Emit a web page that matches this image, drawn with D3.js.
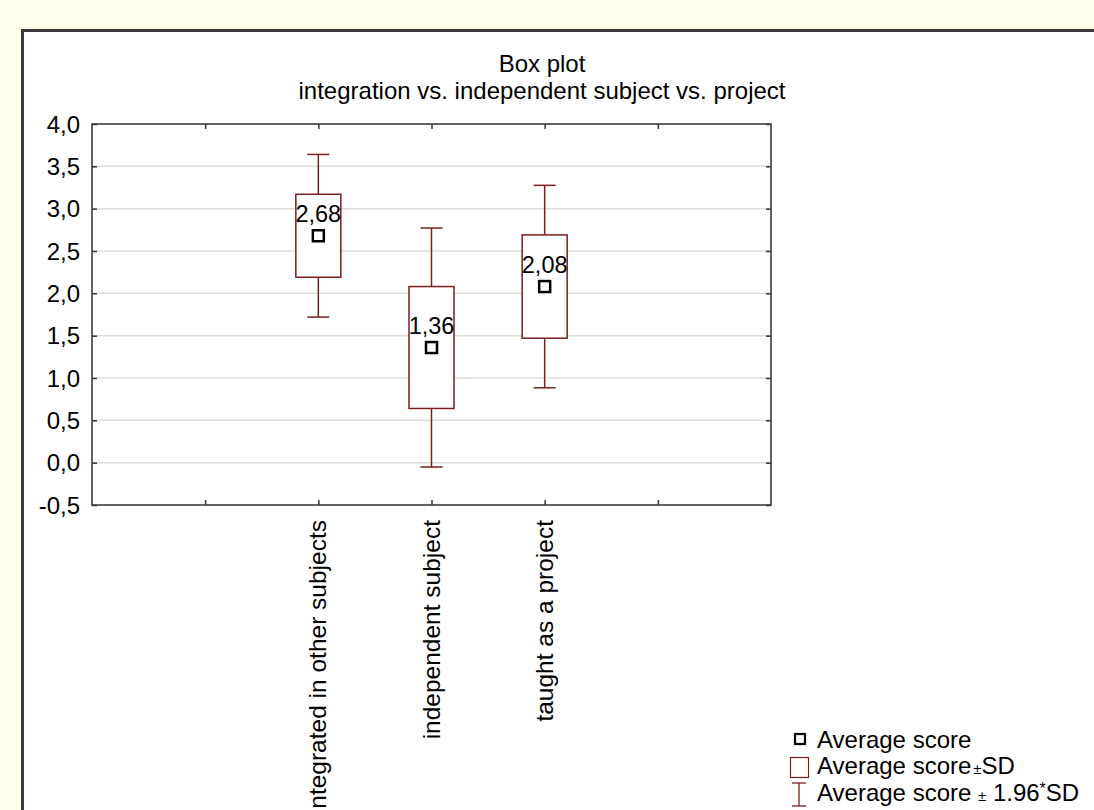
<!DOCTYPE html>
<html>
<head>
<meta charset="utf-8">
<script src="https://cdn.jsdelivr.net/npm/d3@7"></script>
<style>
  html, body { margin: 0; padding: 0; background: #ffffec; }
  svg { display: block; }
  text { font-family: "Liberation Sans", Arial, sans-serif; fill: #000; }
</style>
</head>
<body>
<svg id="chart" width="1094" height="810"></svg>
<script>
// ---- data ----
const categories = ["integrated in other subjects", "independent subject", "taught as a project"];
const categoryPositions = [2, 3, 4];
const means = [2.68, 1.36, 2.08];
const sds = [0.49, 0.72, 0.61];
const yTicks = [-0.5, 0.0, 0.5, 1.0, 1.5, 2.0, 2.5, 3.0, 3.5, 4.0];
const xTickPositions = [1, 2, 3, 4, 5];
const titleLines = ["Box plot", "integration vs. independent subject vs. project"];
const legendLabels = ["Average score", "Average score", "Average score"];

const svg = d3.select("#chart");
const W = 1094, H = 810;

// panel
svg.append("rect").attr("x", 0).attr("y", 0).attr("width", W).attr("height", H).attr("fill", "#ffffec");
svg.append("rect").attr("x", 22.5).attr("y", 30.5).attr("width", W + 20).attr("height", H + 20)
  .attr("fill", "#ffffff").attr("stroke", "#3a3a3a").attr("stroke-width", 3);

const plot = { left: 92, right: 771, top: 124, bottom: 505 };
const x = d3.scaleLinear().domain([0, 6]).range([plot.left, plot.right]);
const y = d3.scaleLinear().domain([-0.5, 4.0]).range([plot.bottom, plot.top]);

const loc = d3.formatLocale({ decimal: ",", thousands: ".", grouping: [3], currency: ["", ""], minus: "-" });
const fmt1 = loc.format(".1f");
const fmt2 = loc.format(".2f");

// gridlines
svg.append("g").selectAll("line").data(yTicks.filter(t => t > -0.5 && t < 4.0)).join("line")
  .attr("x1", plot.left).attr("x2", plot.right)
  .attr("y1", d => y(d)).attr("y2", d => y(d))
  .attr("stroke", "#dcdcdc").attr("stroke-width", 1.5);

// axes (ticks inward)
const tickLen = 5;
const axL = svg.append("g").attr("transform", `translate(${plot.left},0)`)
  .call(d3.axisRight(y).tickValues(yTicks).tickSize(tickLen).tickFormat(""));
const axR = svg.append("g").attr("transform", `translate(${plot.right},0)`)
  .call(d3.axisLeft(y).tickValues(yTicks).tickSize(tickLen).tickFormat(""));
const axB = svg.append("g").attr("transform", `translate(0,${plot.bottom})`)
  .call(d3.axisTop(x).tickValues(xTickPositions).tickSize(tickLen).tickFormat(""));
const axT = svg.append("g").attr("transform", `translate(0,${plot.top})`)
  .call(d3.axisBottom(x).tickValues(xTickPositions).tickSize(tickLen).tickFormat(""));
[axL, axR, axB, axT].forEach(a => {
  a.select(".domain").remove();
  a.selectAll(".tick line").attr("stroke", "#333").attr("stroke-width", 1.5);
});

// frame
svg.append("rect").attr("x", plot.left).attr("y", plot.top)
  .attr("width", plot.right - plot.left).attr("height", plot.bottom - plot.top)
  .attr("fill", "none").attr("stroke", "#3c3c3c").attr("stroke-width", 1.6);

// y tick labels
svg.append("g").selectAll("text").data(yTicks).join("text")
  .attr("x", plot.left - 12).attr("y", d => y(d)).attr("dy", "0.36em")
  .attr("text-anchor", "end").attr("font-size", 24)
  .text(d => fmt1(d));

// x category labels (rotated)
svg.append("g").selectAll("text").data(categories).join("text")
  .attr("transform", (d, i) => `translate(${x(categoryPositions[i]) + 8},520) rotate(-90)`)
  .attr("text-anchor", "end").attr("font-size", 24.5)
  .text(d => d);

// title
svg.append("g").selectAll("text").data(titleLines).join("text")
  .attr("x", 542).attr("y", (d, i) => 72 + i * 27)
  .attr("text-anchor", "middle").attr("font-size", 24)
  .text(d => d);

// boxes
const boxColor = "#7a1e1e";
const boxW = 45, capW = 22;
const g = svg.append("g").selectAll("g").data(means).join("g");
g.each(function (m, i) {
  const s = sds[i];
  const cx = x(categoryPositions[i]);
  const sel = d3.select(this);
  const wTop = m + 1.96 * s, wBot = m - 1.96 * s;
  const bTop = m + s, bBot = m - s;
  sel.append("line").attr("x1", cx).attr("x2", cx).attr("y1", y(wTop)).attr("y2", y(bTop))
    .attr("stroke", boxColor).attr("stroke-width", 1.5);
  sel.append("line").attr("x1", cx).attr("x2", cx).attr("y1", y(bBot)).attr("y2", y(wBot))
    .attr("stroke", boxColor).attr("stroke-width", 1.5);
  sel.append("line").attr("x1", cx - capW / 2).attr("x2", cx + capW / 2).attr("y1", y(wTop)).attr("y2", y(wTop))
    .attr("stroke", boxColor).attr("stroke-width", 1.5);
  sel.append("line").attr("x1", cx - capW / 2).attr("x2", cx + capW / 2).attr("y1", y(wBot)).attr("y2", y(wBot))
    .attr("stroke", boxColor).attr("stroke-width", 1.5);
  sel.append("rect").attr("x", cx - boxW / 2).attr("y", y(bTop)).attr("width", boxW).attr("height", y(bBot) - y(bTop))
    .attr("fill", "#fff").attr("stroke", boxColor).attr("stroke-width", 1.5);
  sel.append("rect").attr("x", cx - 5.5).attr("y", y(m) - 5.5).attr("width", 11).attr("height", 11)
    .attr("fill", "#fff").attr("stroke", "#000").attr("stroke-width", 2.5);
  sel.append("text").attr("x", cx).attr("y", y(m) - 14).attr("text-anchor", "middle").attr("font-size", 23.5)
    .text(fmt2(m));
});

// legend
const lg = svg.append("g");
lg.append("rect").attr("x", 795).attr("y", 734).attr("width", 10).attr("height", 10)
  .attr("fill", "#fff").attr("stroke", "#000").attr("stroke-width", 2.2);
lg.append("text").attr("x", 817).attr("y", 748).attr("font-size", 24).text(legendLabels[0]);

lg.append("rect").attr("x", 790.5).attr("y", 757.5).attr("width", 18).attr("height", 20)
  .attr("fill", "#fff").attr("stroke", boxColor).attr("stroke-width", 1.2);
const t2 = lg.append("text").attr("x", 817).attr("y", 774).attr("font-size", 24);
t2.append("tspan").text(legendLabels[1]);
t2.append("tspan").attr("font-size", 15).attr("dx", 2).text("±");
t2.append("tspan").text("SD");

lg.append("line").attr("x1", 799).attr("x2", 799).attr("y1", 783).attr("y2", 806).attr("stroke", boxColor).attr("stroke-width", 1.3);
lg.append("line").attr("x1", 792).attr("x2", 806).attr("y1", 783).attr("y2", 783).attr("stroke", boxColor).attr("stroke-width", 1.3);
lg.append("line").attr("x1", 792).attr("x2", 806).attr("y1", 806).attr("y2", 806).attr("stroke", boxColor).attr("stroke-width", 1.3);
const t3 = lg.append("text").attr("x", 817).attr("y", 801).attr("font-size", 24);
t3.append("tspan").text(legendLabels[2] + " ");
t3.append("tspan").attr("font-size", 15).text("±");
t3.append("tspan").text(" 1.96");
t3.append("tspan").attr("font-size", 16).attr("dy", -7).text("*");
t3.append("tspan").attr("dy", 7).text("SD");
</script>
</body>
</html>
